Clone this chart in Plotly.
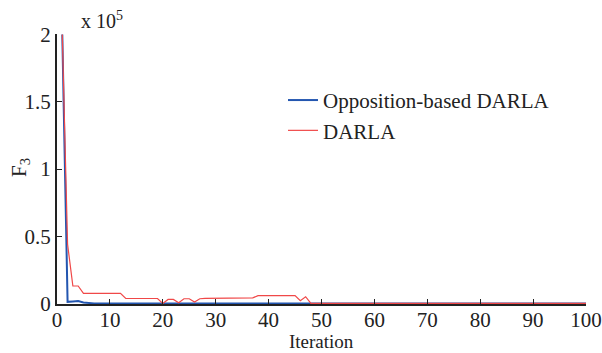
import plotly.graph_objects as go

iterations = list(range(1, 101))

# values in units of 1e5
opposition_darla = [2.0, 0.012, 0.015, 0.018, 0.008, 0.002] + [0.0] * 94

darla = ([2.0, 0.44, 0.13, 0.13]
         + [0.075] * 8            # 5-12
         + [0.037] * 7            # 13-19
         + [0.0, 0.03, 0.03, 0.005, 0.035, 0.035, 0.01, 0.035, 0.038, 0.038,
            0.04, 0.038, 0.04, 0.042, 0.042, 0.042, 0.042, 0.042]  # 20-37
         + [0.058] * 8            # 38-45
         + [0.02, 0.05]           # 46-47
         + [0.0] * 53)            # 48-100

x_ticks = [0, 10, 20, 30, 40, 50, 60, 70, 80, 90, 100]
y_ticks = [0, 0.5, 1, 1.5, 2]
y_tick_labels = ["0", "0.5", "1", "1.5", "2"]

FONT = "Liberation Serif"
L, R, T, B = 57, 16, 34, 49
PW, PH = 602 - L - R, 353 - T - B

fig = go.Figure()
fig.add_trace(go.Scatter(x=iterations, y=opposition_darla, mode="lines",
                         name="Opposition-based DARLA",
                         line=dict(color="#2356b0", width=2)))
fig.add_trace(go.Scatter(x=iterations, y=darla, mode="lines",
                         name="DARLA",
                         line=dict(color="#f04848", width=1.2)))

fig.update_layout(
    width=602, height=353,
    margin=dict(l=L, r=R, t=T, b=B),
    paper_bgcolor="white", plot_bgcolor="white",
    font=dict(family=FONT, size=20, color="#222"),
    showlegend=True,
    legend=dict(x=(283 - L) / PW, y=0.83, xanchor="left", yanchor="top",
                bgcolor="rgba(0,0,0,0)", font=dict(size=21, family=FONT),
                itemwidth=30, tracegroupgap=0),
    xaxis=dict(range=[0, 100], tickvals=x_ticks, ticks="inside", ticklen=5,
               tickcolor="#222", showline=True, linecolor="#222", linewidth=2,
               showgrid=False, zeroline=False, automargin=False,
               ticklabelstandoff=-4,
               tickfont=dict(size=21, family=FONT)),
    yaxis=dict(range=[-0.004, 2.004], tickvals=y_ticks, ticktext=y_tick_labels,
               ticks="inside", ticklen=5, tickcolor="#222",
               showline=True, linecolor="#222", linewidth=2,
               showgrid=False, zeroline=False, automargin=False,
               tickfont=dict(size=21, family=FONT)),
    annotations=[
        dict(text="x 10<sup>5</sup>", xref="paper", yref="paper",
             x=(79 - L) / PW, y=1.0, xanchor="left", yanchor="bottom",
             yshift=0, showarrow=False, font=dict(size=20, family=FONT)),
        dict(text="Iteration", xref="paper", yref="paper",
             x=(321 - L) / PW, y=0, xanchor="center", yanchor="middle",
             yshift=-(341 - 304), showarrow=False, font=dict(size=19, family=FONT)),
        dict(text="F<sub>3</sub>", xref="paper", yref="paper",
             x=0, y=(304 - 168) / PH, xanchor="center", yanchor="middle",
             xshift=-(L - 20), textangle=-90, showarrow=False,
             font=dict(size=21, family=FONT)),
    ],
)

fig.write_html("out.html")
